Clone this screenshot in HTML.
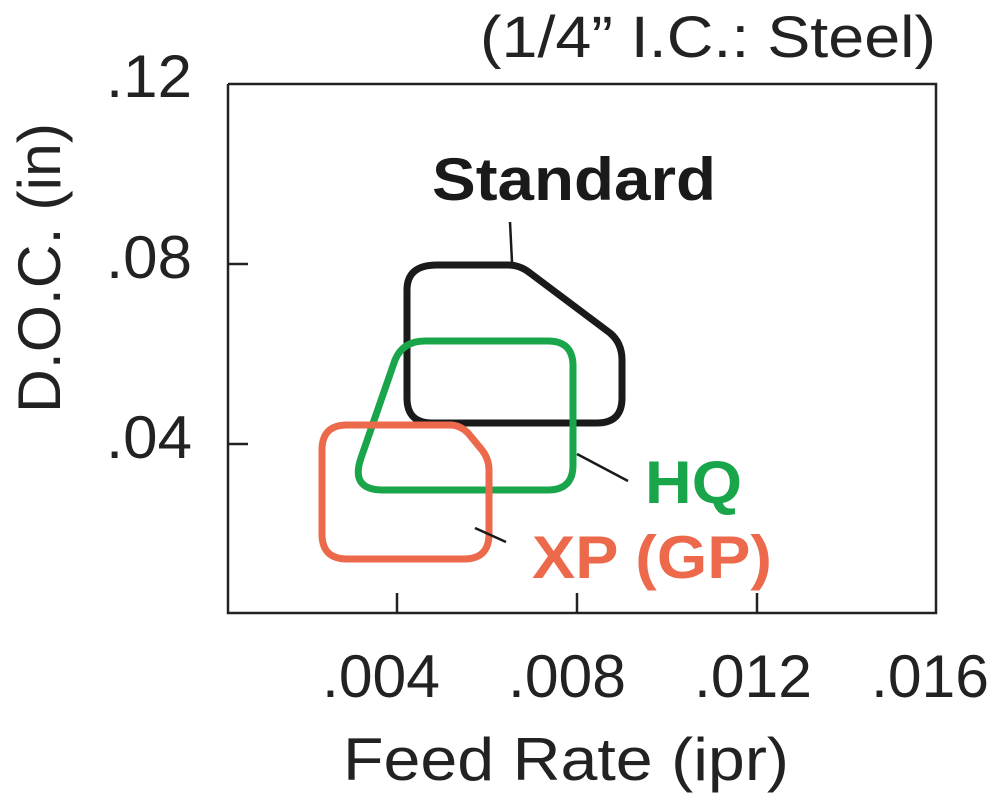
<!DOCTYPE html>
<html><head><meta charset="utf-8"><style>html,body{margin:0;padding:0;background:#fff}svg{display:block}</style></head>
<body>
<svg width="996" height="800" viewBox="0 0 996 800" xmlns="http://www.w3.org/2000/svg" font-family="Liberation Sans, sans-serif">
<rect width="996" height="800" fill="#fff"/>
<g stroke="#222" stroke-width="2.5" fill="none">
<polyline points="228,84 936,84 936,613 228,613 228,84"/>
<line x1="228" y1="264" x2="248" y2="264"/>
<line x1="228" y1="444" x2="248" y2="444"/>
<line x1="397" y1="613" x2="397" y2="593"/>
<line x1="577" y1="613" x2="577" y2="593"/>
<line x1="757" y1="613" x2="757" y2="593"/>
</g>
<g fill="#222" font-size="60" text-anchor="end">
<text x="192" y="97" textLength="86" lengthAdjust="spacingAndGlyphs">.12</text>
<text x="192" y="278" textLength="86" lengthAdjust="spacingAndGlyphs">.08</text>
<text x="192" y="458" textLength="86" lengthAdjust="spacingAndGlyphs">.04</text>
</g>
<g fill="#222" font-size="60" text-anchor="middle">
<text x="381" y="697" textLength="118" lengthAdjust="spacingAndGlyphs">.004</text>
<text x="567" y="697" textLength="118" lengthAdjust="spacingAndGlyphs">.008</text>
<text x="753" y="697" textLength="118" lengthAdjust="spacingAndGlyphs">.012</text>
<text x="930" y="697" textLength="118" lengthAdjust="spacingAndGlyphs">.016</text>
<text x="566" y="780" textLength="446" lengthAdjust="spacingAndGlyphs">Feed Rate (ipr)</text>
<text transform="translate(60,268) rotate(-90)" textLength="290" lengthAdjust="spacingAndGlyphs">D.O.C. (in)</text>
</g>
<text x="936" y="57" fill="#222" font-size="58" text-anchor="end" textLength="456" lengthAdjust="spacingAndGlyphs">(1/4” I.C.: Steel)</text>
<g fill="none" stroke-width="7" stroke-linejoin="round">
<path d="M437,265 L508,265 Q520,265 530,273 L610,333 Q622,343 622,360 L622,398 Q622,423 597,423 L432,423 Q407,423 407,398 L407,290 Q407,265 437,265 Z" stroke="#1a1a1a"/>
<path d="M425,341 L548,341 Q573,341 573,366 L573,465 Q573,490 548,490 L383,490 Q350,490 361,458 L395,360 Q403,341 425,341 Z" stroke="#19a54a"/>
<path d="M347,425 L450,425 Q460,425 468,433 L482,450 Q489,459 489,470 L489,534 Q489,559 464,559 L347,559 Q322,559 322,534 L322,450 Q322,425 347,425 Z" stroke="#ec6a4b"/>
</g>
<g stroke="#1a1a1a" stroke-width="2.5">
<line x1="510" y1="222" x2="512" y2="262"/>
<line x1="577" y1="454" x2="628" y2="481"/>
<line x1="475" y1="528" x2="506" y2="542"/>
</g>
<text x="432" y="200" font-size="60" font-weight="bold" fill="#1a1a1a" textLength="284" lengthAdjust="spacingAndGlyphs">Standard</text>
<text x="645" y="503" font-size="60" font-weight="bold" fill="#19a54a" textLength="97" lengthAdjust="spacingAndGlyphs">HQ</text>
<text x="532" y="578" font-size="60" font-weight="bold" fill="#ec6a4b" textLength="240" lengthAdjust="spacingAndGlyphs">XP (GP)</text>
</svg>
</body></html>
